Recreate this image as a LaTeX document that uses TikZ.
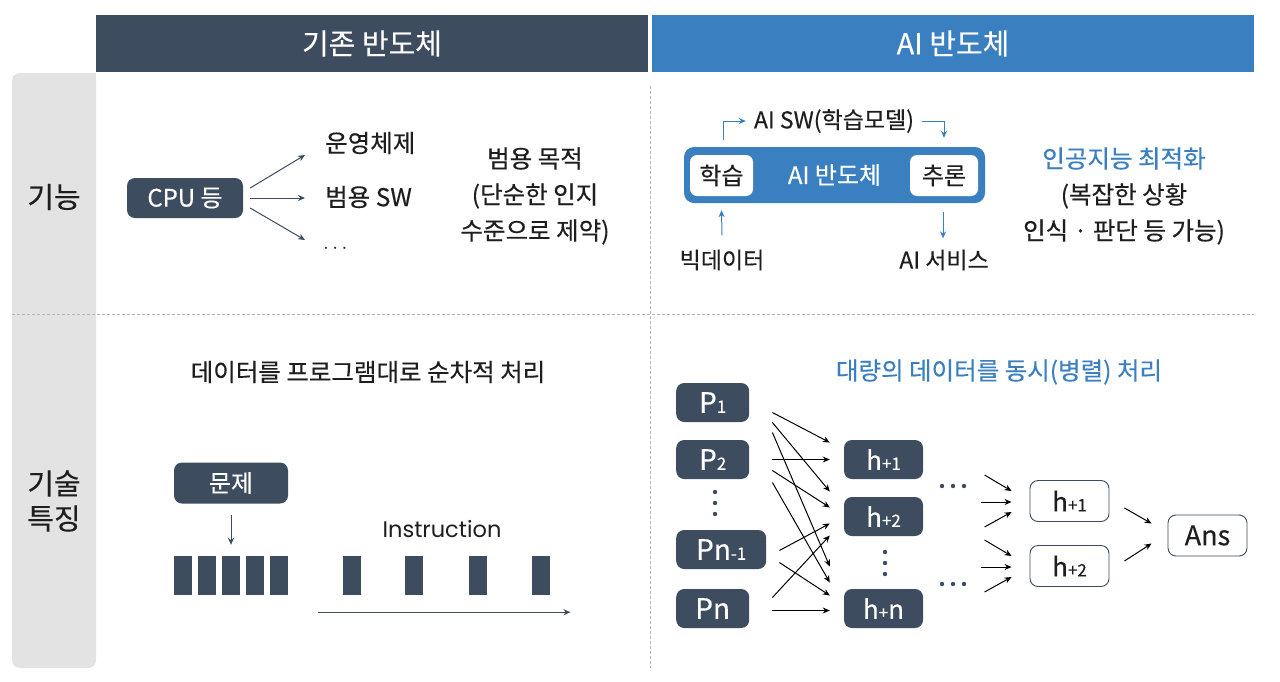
\documentclass[tikz,border=0pt]{standalone}
\usepackage{fontspec}
\setmainfont{Noto Sans CJK KR}[FakeBold=0.3]
\newfontfamily\poppins{Poppins}
\usetikzlibrary{arrows.meta,positioning,calc}
\definecolor{slate}{HTML}{3D4C5E}
\definecolor{chipblue}{HTML}{3A80C0}
\definecolor{colgray}{HTML}{E3E3E3}
\definecolor{dashgray}{HTML}{B4B4B4}
\definecolor{ink}{HTML}{1E1E1E}
\newcommand\lowr[1]{{\fontsize{17}{17}\selectfont #1}}

\begin{document}
\begin{tikzpicture}[x=1pt,y=-1pt,
  fs/.style={font=\fontsize{#1}{#1}\selectfont},
  txt/.style={text=ink,inner sep=2pt,font=\fontsize{24.5}{36}\selectfont},
  head/.style={fill=#1,text=white,minimum height=57pt,inner sep=0pt,font=\fontsize{29}{29}\selectfont},
  darkbox/.style={fill=slate,text=white,rounded corners=8pt,minimum height=40pt,inner sep=0pt,font=\fontsize{24}{24}\selectfont},
  pbox/.style={fill=slate,text=white,rounded corners=8pt,minimum width=73pt,minimum height=39pt,inner sep=0pt,font=\fontsize{28}{28}\selectfont},
  hbox/.style={pbox,minimum width=79pt,font=\fontsize{26}{26}\selectfont},
  hout/.style={draw=slate,line width=0.9pt,text=ink,rounded corners=8pt,minimum width=79pt,minimum height=41pt,inner sep=0pt,font=\fontsize{26}{26}\selectfont},
  wbox/.style={fill=white,text=ink,rounded corners=7pt,minimum width=63pt,minimum height=41pt,inner sep=0pt,font=\fontsize{24}{24}\selectfont},
  bar/.style={fill=slate,minimum width=18.5pt,minimum height=39pt,inner sep=0pt},
  slatearrow/.style={draw=slate,line width=1pt,-{Stealth[length=7pt,width=6pt]}},
  bluearrow/.style={draw=chipblue,line width=1pt,-{Stealth[length=7pt,width=6pt]}},
  nnarrow/.style={draw=black,line width=1pt,-{Stealth[length=7pt,width=6pt]}}]
\fill[white] (0,0) rectangle (1280,681);
\useasboundingbox (0,0) rectangle (1280,681);
% headers and row labels
\fill[colgray,rounded corners=8pt] (12,73) rectangle (96,668);
\fill[colgray] (60,73) rectangle (96,120);
\node[head=slate,minimum width=552pt] (hold) at (372,43.5) {기존 반도체};
\node[head=chipblue,minimum width=602pt] (hai) at (953,43.5) {AI 반도체};
\draw[dashgray,line width=1pt,dash pattern=on 3pt off 2pt] (12,314) -- (1254,314);
\draw[dashgray,line width=1pt,dash pattern=on 3pt off 2pt] (650,86) -- (650,668);
\node[txt,fs=29] (fn) at (54,197) {기능};
\node[txt,align=center,font=\fontsize{29}{35}\selectfont] (tech) at (54,501) {기술\\특징};

% 기존 반도체: 기능
\node[darkbox,minimum width=116pt] (cpu) at (185,198) {CPU 등};
\node[txt,anchor=west] (os) at (323,143) {운영체제};
\node[txt,anchor=west] (gsw) at (323,197) {범용 SW};
\node[txt,anchor=west,font=\fontsize{20}{20}\selectfont] (etc) at (321,249) {$\cdots$};
\draw[slatearrow] ($(cpu.east)+(7,-10)$) -- ($(os.west)+(-18,12)$);
\draw[slatearrow] ($(cpu.east)+(7,0)$) -- ($(gsw.west)+(-18,1)$);
\draw[slatearrow] ($(cpu.east)+(7,10)$) -- ($(etc.west)+(-16,-9)$);
\node[txt,align=center] (gen) at (535,196) {범용 목적\\(단순한 인지\\수준으로 제약)};

% AI 반도체: 기능
\node[fill=chipblue,text=white,rounded corners=10pt,minimum width=301pt,minimum height=56pt,font=\fontsize{24}{24}\selectfont] (chip) at (834.5,175) {AI 반도체};
\node[wbox] (learn) at (721.5,175.5) {학습};
\node[wbox,minimum width=68pt] (infer) at (944,175.5) {추론};
\node[txt,fs=23] (sw) at (834,121) {AI SW(학습모델)};
\node[txt,fs=23] (bigdata) at (722,260) {빅데이터};
\node[txt,fs=23] (aisvc) at (944,260) {AI 서비스};
\draw[bluearrow] ($(learn.north)+(1.5,-15)$) |- ($(sw.west)+(-6,0)$);
\draw[bluearrow] ($(sw.east)+(6,0)$) -| ($(infer.north)+(0,-17)$);
\draw[bluearrow] ($(bigdata.north)+(0,-12)$) -- ($(learn.south)+(0,14)$);
\draw[bluearrow] ($(infer.south)+(-1,16)$) -- ($(aisvc.north)+(-1,-9)$);
\node[txt,align=center] (opt) at (1124,196) {{\color{chipblue}인공지능 최적화}\\(복잡한 상황\\인식 · 판단 등 가능)};

% 기존 반도체: 기술 특징
\node[txt] (seq) at (368,372) {데이터를 프로그램대로 순차적 처리};
\node[darkbox,minimum width=114pt,minimum height=41pt] (prob) at (231,483) {문제};
\foreach \x [count=\i] in {183,207,231,255,279} \node[bar] (b\i) at (\x,575.5) {};
\foreach \x [count=\i] in {352,414,478,541} \node[bar] (r\i) at (\x,575.5) {};
\draw[slatearrow] ($(prob.south)+(0,11)$) -- ($(b3.north)+(0,-11)$);
\node[text=ink,font=\poppins\fontsize{22.5}{22.5}\selectfont] (instr) at (442,529) {Instruction};
\draw[slatearrow] ($(r1.south west)+(-25,17)$) -- ($(r4.south east)+(20,17)$);

% AI 반도체: 기술 특징
\node[txt,text=chipblue] (par) at (999,372) {대량의 데이터를 동시(병렬) 처리};
\node[pbox,anchor=west] (P1) at (676,402.5) {P\lowr{1}};
\node[pbox,anchor=west] (P2) at (676,459.5) {P\lowr{2}};
\node[pbox,anchor=west,minimum width=90pt] (Pm) at (676,549.5) {Pn\lowr{-1}};
\node[pbox,anchor=west] (Pn) at (676,608.5) {Pn};
\node[hbox] (h1) at (883.5,459.5) {h\lowr{+1}};
\node[hbox] (h2) at (883.5,516.5) {h\lowr{+2}};
\node[hbox] (hn) at (883.5,608.5) {h\lowr{+}n};
\foreach \y in {492,503,514} \fill[slate] (715,\y) circle (2.2pt);
\foreach \y in {552,563,574} \fill[slate] (885,\y) circle (2.2pt);
\foreach \a/\dx/\da/\b/\db in {P1/23/10/h1/-17, P1/23/20/h2/-25, P1/23/30/hn/-42,
    P2/23/0/h1/0, P2/23/11/h2/-9, P2/23/23/hn/-26,
    Pm/13/1/h2/7, Pm/13/13/hn/-13, Pn/23/-11/h2/19, Pn/23/2/hn/2}
  \draw[nnarrow] ($(\a.east)+(\dx,\da)$) -- ($(\b.west)+(-14,\db)$);
\node[hout] (o1) at (1069.5,501) {h\lowr{+1}};
\node[hout] (o2) at (1069.5,566) {h\lowr{+2}};
\node[hout,font=\fontsize{27}{27}\selectfont] (ans) at (1207.5,535.5) {Ans};
\foreach \x in {942,953,964} {\fill[slate] (\x,486) circle (2.2pt); \fill[slate] (\x,584) circle (2.2pt);}
\foreach \o in {o1,o2} {
  \draw[nnarrow] ($(\o.west)+(-45,-26)$) -- ($(\o.west)+(-18,-10)$);
  \draw[nnarrow] ($(\o.west)+(-49,1)$) -- ($(\o.west)+(-18,1)$);
  \draw[nnarrow] ($(\o.west)+(-45,26)$) -- ($(\o.west)+(-18,11)$);}
\draw[nnarrow] ($(o1.east)+(15,7)$) -- ($(ans.west)+(-16,-12)$);
\draw[nnarrow] ($(o2.east)+(15,-5)$) -- ($(ans.west)+(-16,8)$);
\end{tikzpicture}
\end{document}
